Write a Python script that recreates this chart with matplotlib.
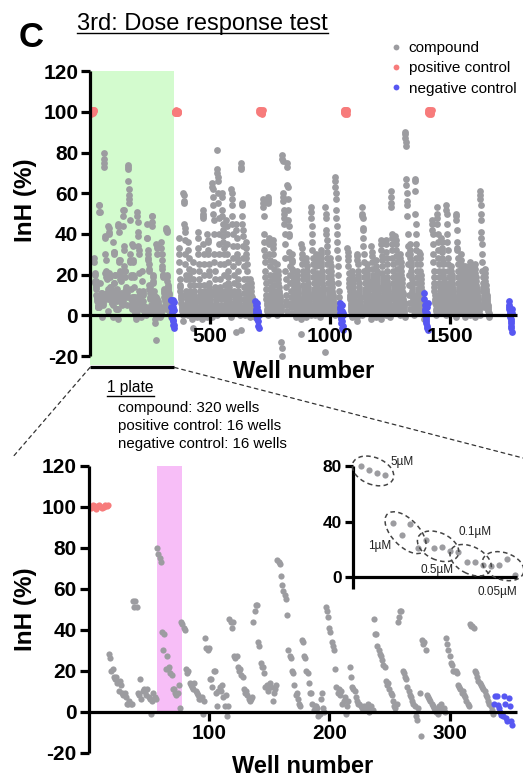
import numpy as np
import matplotlib
matplotlib.use('Agg')
import matplotlib.pyplot as plt
from matplotlib.lines import Line2D
from matplotlib.patches import Ellipse, ConnectionPatch
from matplotlib.transforms import IdentityTransform

plt.rcParams['font.family'] = ['Liberation Sans', 'DejaVu Sans']
plt.rcParams['axes.unicode_minus'] = False

# ---------------- layout of one plate ----------------
PLATE = 352      # wells per plate
NPOS = 16        # positive control wells (start of plate)
NCMP = 320       # compound wells
NNEG = 16        # negative control wells (end of plate)
NDOSE = 20       # wells per compound (5 doses x 4)

# ---------------- data: plate 1 (zoomed panel) ----------------
p1_pos = [100, 99.5, 100, 101, 100.5, 99, 100, 100.5, 101, 100, 99.5, 100, 100, 101, 100.5, 101]
p1_neg = [4, 7.5, 7.5, 3.4, 1.8, 0, -1.5, -2.3, 7.5, 4, -3, -4.7, 6.7, 2.6, -4.7, -6.4]
p1_cmp = [
    [28, 26, 20, 21, 17, 16, 17, 14, 10, 15, 13, 9, 8, 9, 7, 4, 4, 5, 4, 4],
    [54, 51, 54, 51, 9, 8, 16, 6, 10, 11, 10, 8, 11, 7, 6, -1, 5, 9, 7, 6],
    [80, 77, 75, 73, 39, 30, 38, 21, 27, 21, 22, 19, 18, 11, 11, 9, 8, 9, 13, 2],
    [44, 43, 41, 40, 21, 19, 20, 14, 13, 12, 11, 14, 10, 9, 8, 6, 6, 7, -1, 5],
    [36, 31, 30, 31, 16, 16, 12, 20, 20, 9, 3, 10, 12, 10, 13, 7, 3, 8, -2, 3],
    [45, 44, 41, 44, 27, 26, 27, 22, 20, 21, 18, 17, 11, 9, 10, 8, 6, 5, 6, 7],
    [44, 49, 52, 52, 34, 32, 24, 22, 22, 19, 12, 13, 10, 12, 14, 12, 5, 9, 11, 13],
    [74, 73, 72, 66, 62, 59, 57, 55, 47, 30, 27, 26, 20, 19, 13, 8, 9, 6, 4, 3],
    [35, 34, 27, 26, 20, 19, 14, 9, 9, 4, 1, 3, 3, 2, -2, -1, 6, 9, 2, 0],
    [51, 49, 46, 41, 39, 34, 32, 30, 21, 12, 9, 11, 8, 10, 4, 5, 7, -1, 3, 5],
    [22, 17, 12, 11, 10, 7, 5, 4, 4, 3, 2, 2, 3, 1, 2, 4, 0, 2, 3, 1],
    [45, 38, 38, 32, 30, 28, 27, 25, 23, 22, 15, 13, 14, 11, 9, 8, 5, 3, 2, 4],
    [44, 46, 49, 49, 20, 19, 17, 16, 12, 10, 8, 7, 5, 4, 3, -2, -4, 2, 9, -12],
    [35, 33, 34, 30, 8, 7, 6, 5, 4, 3, 2, 1, 0, -1, 3, 2, 4, 1, 2, 0],
    [36, 33, 30, 27, 24, 23, 20, 20, 20, 19, 13, 12, 11, 9, 10, 8, 7, 5, 4, 3],
    [43, 42, 42, 41, 20, 19, 17, 15, 14, 13, 12, 11, 10, 8, 7, 5, 4, 3, 1, -1],
]

# ---------------- data: plates 2-5 (overview panel) ----------------
p2_cmp = [
    [38, 33, 30, 26, 22, 18, 15, 14, 12, 10, 9, 8, 6, 5, 4, 3, 2, 1, 0, -3],
    [60, 59, 56, 55, 45, 43, 41, 37, 30, 25, 20, 18, 12, 10, 8, 6, 5, 3, 2, 0],
    [36, 32, 28, 23, 20, 18, 15, 12, 10, 9, 8, 6, 5, 4, 3, 2, 1, 0, -2, -6],
    [26, 22, 18, 15, 12, 10, 9, 8, 7, 6, 5, 4, 3, 2, 1, 0, 2, 1, 0, -1],
    [41, 38, 33, 30, 25, 22, 18, 15, 12, 10, 8, 7, 5, 4, 3, 2, 1, 0, 1, -2],
    [52, 50, 49, 48, 35, 30, 25, 20, 15, 12, 10, 8, 6, 5, 4, 3, 2, 1, 0, -1],
    [40, 37, 36, 32, 30, 25, 22, 20, 16, 14, 12, 10, 8, 7, 5, 4, 3, 2, 0, -1],
    [65, 63, 62, 58, 54, 50, 47, 40, 30, 26, 22, 18, 14, 12, 10, 8, 6, 4, 2, 0],
    [81, 72, 70, 68, 66, 60, 55, 48, 40, 35, 30, 25, 18, 14, 12, 10, 8, 5, 3, 1],
    [60, 58, 52, 49, 45, 42, 39, 36, 33, 30, 25, 20, 15, 12, 10, 8, 6, 4, 3, 1],
    [47, 44, 40, 35, 30, 26, 22, 19, 16, 14, 12, 10, 8, 6, 5, 4, 3, 2, 1, -1],
    [62, 60, 57, 54, 49, 45, 40, 34, 28, 24, 20, 16, 12, 10, 8, 6, 4, 3, 2, -8],
    [45, 42, 38, 34, 30, 28, 26, 22, 18, 15, 12, 10, 8, 6, 5, 4, 3, 1, 0, -7],
    [75, 73, 72, 55, 54, 49, 45, 42, 39, 34, 28, 24, 18, 14, 11, 8, 6, 4, 2, 0],
    [36, 33, 30, 28, 25, 22, 18, 15, 12, 10, 8, 7, 6, 5, 4, 3, 2, 1, 0, -1],
    [18, 16, 14, 12, 10, 9, 8, 7, 6, 5, 4, 3, 2, 2, 1, 0, 0, -1, 1, 0],
]
p3_cmp = [
    [57, 55, 53, 49, 40, 36, 32, 29, 26, 22, 19, 16, 13, 10, 8, 6, 5, 3, 2, 0],
    [58, 57, 56, 55, 38, 37, 35, 30, 27, 24, 20, 17, 14, 12, 10, 8, 6, 4, 3, 1],
    [37, 35, 33, 30, 26, 23, 20, 18, 15, 12, 10, 9, 7, 6, 5, 4, 3, 2, 1, 0],
    [25, 22, 20, 18, 16, 14, 12, 11, 10, 9, 8, 7, 6, 5, 4, 3, 2, -13, -16, -20],
    [79, 77, 76, 60, 58, 56, 52, 50, 48, 45, 40, 35, 28, 22, 18, 14, 10, 7, 5, 2],
    [75, 73, 64, 63, 57, 52, 47, 44, 40, 39, 31, 28, 24, 20, 16, 12, 9, 6, 4, 1],
    [30, 27, 26, 23, 22, 19, 17, 16, 14, 12, 10, 9, 8, 7, 6, 5, 4, 2, 1, -1],
    [22, 20, 18, 16, 14, 12, 11, 10, 9, 8, 7, 6, 5, 4, 3, 2, 1, 0, -2, -9],
    [35, 33, 30, 28, 25, 22, 20, 18, 15, 13, 11, 9, 8, 7, 6, 5, 3, 2, 1, -1],
    [28, 26, 24, 22, 20, 18, 16, 14, 12, 11, 10, 9, 8, 7, 6, 5, 4, 3, 2, 0],
    [53, 51, 48, 44, 40, 36, 32, 28, 25, 22, 19, 16, 13, 11, 9, 7, 5, 4, 2, 0],
    [30, 28, 26, 24, 21, 19, 17, 15, 13, 11, 10, 9, 7, 6, 5, 4, 3, 2, 1, -1],
    [32, 30, 28, 26, 24, 22, 20, 18, 16, 14, 12, 10, 9, 8, 7, 6, 5, 4, 2, -18],
    [53, 50, 48, 42, 40, 37, 34, 31, 28, 25, 22, 19, 16, 13, 11, 9, 7, 5, 3, 1],
    [28, 26, 24, 22, 20, 18, 16, 14, 12, 11, 10, 9, 8, 7, 6, 5, 4, 3, 2, 0],
    [68, 66, 63, 60, 57, 52, 48, 44, 40, 36, 32, 28, 24, 20, 16, 12, 9, 6, 4, 2],
]
p4_cmp = [
    [33, 31, 29, 27, 24, 21, 18, 16, 14, 12, 10, 9, 8, 6, 5, 4, 3, 2, 1, -1],
    [22, 20, 18, 16, 14, 12, 11, 10, 9, 8, 7, 6, 5, 4, 3, 2, 1, 0, -1, -3],
    [30, 29, 27, 25, 22, 20, 18, 16, 14, 12, 10, 9, 7, 6, 5, 4, 3, 2, 1, 0],
    [53, 50, 49, 48, 43, 42, 38, 34, 30, 26, 22, 19, 16, 13, 11, 9, 7, 5, 3, 1],
    [25, 23, 21, 19, 17, 15, 13, 12, 10, 9, 8, 7, 6, 5, 4, 3, 2, 1, 0, -2],
    [34, 31, 29, 26, 23, 20, 18, 16, 14, 12, 10, 9, 8, 7, 6, 5, 4, 3, 1, -1],
    [27, 24, 22, 20, 18, 16, 14, 12, 11, 10, 9, 8, 7, 6, 5, 4, 3, 2, 0, -2],
    [37, 35, 32, 29, 27, 24, 21, 19, 17, 15, 13, 11, 9, 8, 7, 6, 5, 3, 2, 0],
    [37, 35, 31, 28, 25, 22, 19, 17, 15, 13, 12, 11, 10, 9, 8, 6, 5, 4, 2, -1],
    [61, 58, 55, 53, 40, 38, 35, 32, 28, 25, 22, 19, 16, 14, 12, 10, 8, 6, 4, 2],
    [39, 37, 35, 32, 29, 26, 23, 20, 18, 16, 14, 12, 10, 9, 7, 6, 5, 4, 2, 0],
    [30, 28, 26, 24, 22, 20, 18, 16, 14, 12, 11, 10, 8, 7, 6, 5, 4, 2, 1, -1],
    [90, 89, 87, 85, 83, 67, 64, 60, 56, 54, 49, 40, 34, 30, 25, 20, 15, 10, 6, 3],
    [35, 32, 30, 28, 26, 24, 22, 20, 18, 16, 14, 12, 10, 9, 8, 7, 5, 4, 2, 0],
    [67, 66, 61, 50, 45, 40, 35, 32, 28, 25, 22, 19, 16, 13, 11, 9, 7, 5, 3, 1],
    [31, 30, 28, 25, 22, 20, 18, 16, 14, 12, 10, 9, 8, 7, 5, 4, 3, 2, 1, -2],
]
p5_cmp = [
    [47, 45, 42, 40, 35, 30, 26, 22, 19, 16, 14, 12, 10, 8, 7, 6, 5, 3, 2, 0],
    [53, 50, 48, 45, 40, 36, 32, 28, 25, 22, 19, 16, 14, 12, 10, 8, 6, 4, 3, 1],
    [38, 36, 33, 31, 28, 26, 25, 22, 20, 18, 16, 14, 12, 10, 8, 7, 5, 4, 2, 0],
    [54, 52, 50, 45, 40, 36, 32, 28, 25, 22, 19, 16, 14, 12, 10, 8, 6, 4, 3, 1],
    [24, 22, 20, 18, 16, 15, 14, 13, 12, 11, 10, 9, 8, 7, 6, 5, 4, 3, 1, -1],
    [50, 49, 47, 42, 36, 33, 32, 28, 25, 22, 19, 16, 14, 12, 10, 8, 7, 5, 3, 1],
    [30, 27, 25, 23, 21, 19, 17, 15, 13, 12, 10, 9, 8, 7, 6, 5, 4, 3, 1, -1],
    [24, 22, 20, 18, 16, 14, 13, 12, 11, 10, 9, 8, 7, 6, 5, 4, 3, 2, 1, 0],
    [26, 24, 22, 20, 18, 16, 14, 13, 12, 11, 10, 9, 8, 7, 6, 5, 4, 3, 1, -1],
    [25, 23, 21, 19, 17, 15, 14, 13, 12, 11, 10, 9, 8, 7, 6, 5, 4, 3, 2, 0],
    [61, 59, 57, 54, 50, 47, 41, 38, 35, 30, 26, 22, 19, 16, 14, 12, 10, 8, 6, 4],
    [23, 21, 19, 17, 15, 13, 12, 11, 10, 9, 8, 7, 6, 5, 4, 3, 2, 1, 0, -1],
]
p2_pos = [100, 100.5, 99.5, 100, 101, 100, 99.5, 100, 100.5, 100, 99.5, 100, 100, 100.5, 99.5, 100]
p3_pos = [100, 101, 99.5, 100.5, 101, 100, 99.5, 100, 100.5, 101, 99.5, 100, 100, 100.5, 99, 101]
p4_pos = [100, 101, 99.5, 100.5, 101, 100, 99, 100, 100.5, 101, 99.5, 100, 100, 100.5, 99, 101]
p5_pos = [100, 101, 99.5, 100.5, 101, 100, 99, 100, 100.5, 101, 99.5, 100, 100, 100.5, 99, 101]
p2_neg = [7, 5, 3, 2, 1, 0, -1, -2, 4, 6, -3, -5, 2, 1, 0, -6]
p3_neg = [6, 4, 3, 1, 0, -1, -2, -4, 5, 2, -3, -6, 1, -5, 0, -7]
p4_neg = [11, 8, 5, 3, 2, 0, -1, -2, -3, -4, -5, -6, 4, 1, -7, 6]
p5_neg = [7, 5, 4, 3, 2, 1, 0, -1, -2, -3, -4, -5, -6, -8, 3, 1]

plates_cmp = [p1_cmp, p2_cmp, p3_cmp, p4_cmp, p5_cmp]
plates_pos = [p1_pos, p2_pos, p3_pos, p4_pos, p5_pos]
plates_neg = [p1_neg, p2_neg, p3_neg, p4_neg, p5_neg]

doses = ['5\u00b5M', '1\u00b5M', '0.5\u00b5M', '0.1\u00b5M', '0.05\u00b5M']
dose_label_px = [(402, 462), (380, 546), (437, 570), (475, 532), (497, 592)]
highlight = 2   # compound shown in inset (index in plate 1)

GRAY = '#9c9ca0'
RED = '#f77b7b'
BLUE = '#5757f2'


def plate_arrays(p):
    start = p * PLATE + 1
    xp = start + np.arange(NPOS)
    cvals = np.concatenate(plates_cmp[p])
    xc = start + NPOS + np.arange(len(cvals))
    xn = start + NPOS + NCMP + np.arange(NNEG)
    return xp, np.array(plates_pos[p]), xc, cvals, xn, np.array(plates_neg[p])


W, H = 523, 777
fig = plt.figure(figsize=(W / 100, H / 100), dpi=100)


def fx(x):
    return x / W


def fy(y):
    return 1 - y / H


def style(ax, yticks, xticks, fs):
    for s in ['top', 'right']:
        ax.spines[s].set_visible(False)
    ax.spines['bottom'].set_position(('data', 0))
    ax.spines['left'].set_bounds(yticks[0], yticks[-1])
    for s in ['left', 'bottom']:
        ax.spines[s].set_linewidth(2.3)
        ax.spines[s].set_capstyle('butt')
    ax.set_yticks(yticks)
    ax.set_xticks(xticks)
    ax.tick_params(direction='out', length=6.5, width=2.3, labelsize=fs, pad=2)
    for lab in ax.get_xticklabels() + ax.get_yticklabels():
        lab.set_fontweight('bold')
    ax.patch.set_visible(False)


# ================= top overview panel =================
ax1 = fig.add_axes([fx(90), fy(365.2), fx(517) - fx(90), (365.2 - 71.1) / H])
ax1.set_xlim(0, 1780)
ax1.set_ylim(-24.5, 120)
ax1.axvspan(0, PLATE, color='#d3fbce', zorder=0, lw=0)
for p in range(5):
    xp, vp, xc, vc, xn, vn = plate_arrays(p)
    ax1.scatter(xc, vc, s=24, color=GRAY, lw=0, zorder=1)
for p in range(5):
    xp, vp, xc, vc, xn, vn = plate_arrays(p)
    ax1.scatter(xp, vp, s=24, color=RED, lw=0, zorder=1.2)
    ax1.scatter(xn, vn, s=24, color=BLUE, lw=0, zorder=1.3)
style(ax1, [-20, 0, 20, 40, 60, 80, 100, 120], [500, 1000, 1500], 15)
ax1.set_xlabel('Well number', fontsize=17, fontweight='bold')
ax1.xaxis.label.set_va('baseline')
ax1.xaxis.set_label_coords(0.4996, -0.0445)
ax1.set_ylabel('InH (%)', fontsize=17.5, fontweight='bold')
ax1.yaxis.label.set_va('baseline')
ax1.yaxis.set_label_coords(-0.136, 0.56)
# bar under plate 1
ybar = -25.6
ax1.plot([0, PLATE], [ybar, ybar], color='k', lw=2.3, clip_on=False, solid_capstyle='butt')

# legend
handles = [Line2D([], [], marker='o', ls='', color=c, markersize=4.2, markeredgewidth=0)
           for c in (GRAY, RED, BLUE)]
fig.legend(handles, ['compound', 'positive control', 'negative control'],
           loc='upper left', bbox_to_anchor=(fx(391), fy(41)), frameon=False,
           fontsize=11, handlelength=0.7, handletextpad=0.45, labelspacing=0.42,
           borderpad=0, borderaxespad=0)

# ================= bottom zoomed panel =================
ax2 = fig.add_axes([fx(88.5), fy(752.7), fx(517) - fx(88.5), (752.7 - 465.7) / H])
ax2.set_xlim(0, 356)
ax2.set_ylim(-20, 120)
hs = NPOS + highlight * NDOSE + 1
ax2.axvspan(hs, hs + NDOSE + 0.5, ymin=20 / 140, ymax=1, color='#f7bef7', zorder=0, lw=0)
xp, vp, xc, vc, xn, vn = plate_arrays(0)
ax2.scatter(xc, vc, s=20, color=GRAY, lw=0, zorder=1)
ax2.scatter(xp, vp, s=20, color=RED, lw=0, zorder=1.2)
ax2.scatter(xn, vn, s=20, color=BLUE, lw=0, zorder=1.3)
style(ax2, [-20, 0, 20, 40, 60, 80, 100, 120], [100, 200, 300], 15)
ax2.set_xlabel('Well number', fontsize=17, fontweight='bold')
ax2.xaxis.label.set_va('baseline')
ax2.xaxis.set_label_coords(0.5, -0.07)
ax2.set_ylabel('InH (%)', fontsize=17.5, fontweight='bold')
ax2.yaxis.label.set_va('baseline')
ax2.yaxis.set_label_coords(-0.133, 0.5)

# ================= inset: one compound, 5 doses =================
ax3 = fig.add_axes([fx(352.7), fy(588.5), fx(517) - fx(352.7), (588.5 - 465.7) / H])
ax3.set_xlim(0, 20.2)
ax3.set_ylim(-8, 80)
ins_vals = np.array(p1_cmp[highlight], dtype=float)
ins_x = np.arange(1, NDOSE + 1)
ax3.scatter(ins_x, ins_vals, s=20, color=GRAY, lw=0, zorder=2, clip_on=False)
for s in ['top', 'right']:
    ax3.spines[s].set_visible(False)
ax3.spines['bottom'].set_position(('data', 0))
ax3.spines['left'].set_bounds(-8, 80)
for s in ['left', 'bottom']:
    ax3.spines[s].set_linewidth(2.3)
    ax3.spines[s].set_capstyle('butt')
ax3.set_xticks([])
ax3.set_yticks([0, 40, 80])
ax3.tick_params(direction='out', length=6, width=2.3, labelsize=12.5, pad=2)
for lab in ax3.get_yticklabels():
    lab.set_fontweight('bold')
ax3.patch.set_visible(False)

# dashed ellipses around each dose group (computed in pixel space)
for g in range(5):
    gx = ins_x[g * 4:(g + 1) * 4]
    gy = ins_vals[g * 4:(g + 1) * 4]
    pts = ax3.transData.transform(np.column_stack([gx, gy]))
    c = pts.mean(axis=0)
    d = pts[-1] - pts[0]
    ang = np.degrees(np.arctan2(d[1], d[0]))
    span = np.hypot(*d)
    e = Ellipse(c, width=span + 17, height=27, angle=ang, transform=IdentityTransform(),
                fill=False, ls=(0, (3, 2.2)), lw=1.1, edgecolor='#444444', zorder=3)
    fig.add_artist(e)
    lx, ly = dose_label_px[g]
    fig.text(fx(lx), fy(ly), doses[g], fontsize=8.5, ha='center', va='center', color='#222222')

# ================= texts =================
fig.text(fx(19), fy(47), 'C', fontsize=25, fontweight='bold', va='baseline', ha='left')
title = fig.text(fx(77), fy(30), '3rd: Dose response test', fontsize=17, va='baseline', ha='left')
plate_lbl = fig.text(fx(107), fy(392), '1 plate', fontsize=11.2, va='baseline', ha='left')
info = ['compound: 320 wells', 'positive control: 16 wells', 'negative control: 16 wells']
for i, t in enumerate(info):
    fig.text(fx(118), fy(412 + 18.2 * i), t, fontsize=10.8, va='baseline', ha='left')

# dashed connector lines from the plate bar to the zoomed panel
for xa, xb in ((0, 12), (PLATE, 523)):
    con = ConnectionPatch(xyA=(xa, ybar), coordsA=ax1.transData,
                          xyB=(fx(xb), fy(458)), coordsB=fig.transFigure,
                          ls=(0, (3, 3)), lw=0.9, color='#333333')
    fig.add_artist(con)

# underlines
fig.canvas.draw()
for t, yb, off in ((title, 30, 2.5), (plate_lbl, 392, 3.5)):
    bb = t.get_window_extent()
    yb_px = H - yb
    fig.add_artist(Line2D([bb.x0 / W, bb.x1 / W], [(yb_px - off) / H] * 2,
                          transform=fig.transFigure, color='k', lw=1.0))

fig.savefig('out.png', dpi=100)
